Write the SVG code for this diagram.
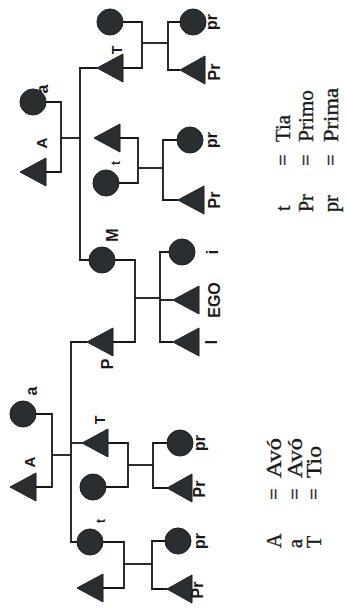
<svg xmlns="http://www.w3.org/2000/svg" width="347" height="608" viewBox="0 0 347 608">
<style>
.c{fill:#2b2e31;stroke:#1e1e1e;stroke-width:1}
.t{fill:#2b2e31;stroke:#1e1e1e;stroke-width:1;stroke-linejoin:round}
.ln{fill:none;stroke:#161616;stroke-width:1.8}
.lb{font-family:"Liberation Sans",Arial,sans-serif;font-weight:bold;fill:#1a1a1a;text-anchor:middle}
.lg{font-family:"Liberation Serif","Times New Roman",serif;font-size:20px;fill:#1a1a1a;stroke:#1a1a1a;stroke-width:0.35}
</style>
<rect width="347" height="608" fill="#ffffff"/>
<g id="connectors" class="ln">
<path d="M46,172 H61 V102 H46"/>
<path d="M61,138 H80"/>
<path d="M97,68 H80 V260 H89"/>
<path d="M123,68 H142 V22 H123"/>
<path d="M142,43 H168"/>
<path d="M180,22 H168 V70 H180"/>
<path d="M120,138 H138 V183 H119"/>
<path d="M138,168 H163"/>
<path d="M177,140 H163 V200 H178"/>
<path d="M115,260 H135 V342 H113"/>
<path d="M135,298 H160"/>
<path d="M169,252 H160 V342 H173"/>
<path d="M160,300 H173"/>
<path d="M87,342 H71 V542 H77"/>
<path d="M36,414 H52 V487 H36"/>
<path d="M52,455 H71"/>
<path d="M71,443 H82"/>
<path d="M108,443 H128 V487 H106"/>
<path d="M128,465 H153"/>
<path d="M167,443 H153 V488 H167"/>
<path d="M103,542 H124 V588 H103"/>
<path d="M124,564 H152"/>
<path d="M165,541 H152 V589 H167"/>
</g>
<g id="mA"><polygon class="t" points="20,172 46,158 46,186"/><text class="lb" font-size="15" transform="translate(47,143) rotate(-90)">A</text></g>
<g id="ma"><circle class="c" cx="33" cy="102" r="13"/><text class="lb" font-size="16" transform="translate(48,89) rotate(-90)">a</text></g>
<g id="mT"><polygon class="t" points="97,68 123,54 123,82"/><text class="lb" font-size="14" transform="translate(122,50) rotate(-90)">T</text></g>
<g id="mTwife"><circle class="c" cx="110" cy="22" r="13"/></g>
<g id="mTpr"><circle class="c" cx="193" cy="22" r="13"/><text class="lb" font-size="16" transform="translate(217,22) rotate(-90)">pr</text></g>
<g id="mTPr"><polygon class="t" points="180,70 205,56 205,84"/><text class="lb" font-size="16" transform="translate(220,72) rotate(-90)">Pr</text></g>
<g id="mt"><circle class="c" cx="106" cy="183" r="13"/><text class="lb" font-size="12" transform="translate(120,163) rotate(-90)">t</text></g>
<g id="mthusband"><polygon class="t" points="94,138 120,124 120,152"/></g>
<g id="mtpr"><circle class="c" cx="190" cy="140" r="13"/><text class="lb" font-size="16" transform="translate(217,140) rotate(-90)">pr</text></g>
<g id="mtPr"><polygon class="t" points="178,200 204,186 204,214"/><text class="lb" font-size="16" transform="translate(220,200) rotate(-90)">Pr</text></g>
<g id="M"><circle class="c" cx="102" cy="260" r="13"/><text class="lb" font-size="16" transform="translate(118,235) rotate(-90)">M</text></g>
<g id="P"><polygon class="t" points="87,342 113,328 113,356"/><text class="lb" font-size="16" transform="translate(113,364) rotate(-90)">P</text></g>
<g id="i"><circle class="c" cx="182" cy="252" r="13"/><text class="lb" font-size="16" transform="translate(218,252) rotate(-90)">i</text></g>
<g id="EGO"><polygon class="t" points="173,300 199,286 199,314"/><text class="lb" font-size="16" transform="translate(220,300) rotate(-90)">EGO</text></g>
<g id="I"><polygon class="t" points="173,342 199,328 199,356"/><text class="lb" font-size="16" transform="translate(217,342) rotate(-90)">I</text></g>
<g id="pa"><circle class="c" cx="23" cy="414" r="13"/><text class="lb" font-size="16" transform="translate(37,391) rotate(-90)">a</text></g>
<g id="pA"><polygon class="t" points="10,487 36,473 36,501"/><text class="lb" font-size="15" transform="translate(35,462) rotate(-90)">A</text></g>
<g id="pT"><polygon class="t" points="82,443 108,429 108,457"/><text class="lb" font-size="14" transform="translate(105,420) rotate(-90)">T</text></g>
<g id="pTwife"><circle class="c" cx="93" cy="487" r="13"/></g>
<g id="pTpr"><circle class="c" cx="180" cy="443" r="13"/><text class="lb" font-size="16" transform="translate(205,443) rotate(-90)">pr</text></g>
<g id="pTPr"><polygon class="t" points="167,488 192,474 192,502"/><text class="lb" font-size="16" transform="translate(205,489) rotate(-90)">Pr</text></g>
<g id="pt"><circle class="c" cx="90" cy="542" r="13"/><text class="lb" font-size="12" transform="translate(105,521) rotate(-90)">t</text></g>
<g id="pthusband"><polygon class="t" points="77,588 103,574 103,602"/></g>
<g id="ptpr"><circle class="c" cx="178" cy="541" r="13"/><text class="lb" font-size="16" transform="translate(205,541) rotate(-90)">pr</text></g>
<g id="ptPr"><polygon class="t" points="167,589 192,575 192,603"/><text class="lb" font-size="16" transform="translate(203,590) rotate(-90)">Pr</text></g>
<g id="legend-top" class="lg">
<text transform="translate(290,211) rotate(-90)">t</text>
<text transform="translate(290,160) rotate(-90)" text-anchor="middle">=</text>
<text transform="translate(290,142) rotate(-90)" textLength="27" lengthAdjust="spacingAndGlyphs">Tia</text>
<text transform="translate(313,212) rotate(-90)">Pr</text>
<text transform="translate(313,160) rotate(-90)" text-anchor="middle">=</text>
<text transform="translate(313,142) rotate(-90)" textLength="52" lengthAdjust="spacingAndGlyphs">Primo</text>
<text transform="translate(338,212) rotate(-90)">pr</text>
<text transform="translate(338,160) rotate(-90)" text-anchor="middle">=</text>
<text transform="translate(338,142) rotate(-90)" textLength="54" lengthAdjust="spacingAndGlyphs">Prima</text>
</g>
<g id="legend-bottom" class="lg">
<text transform="translate(281,548) rotate(-90)">A</text>
<text transform="translate(281,494) rotate(-90)" text-anchor="middle">=</text>
<text transform="translate(281,478) rotate(-90)" textLength="40" lengthAdjust="spacingAndGlyphs">Avó</text>
<text transform="translate(302,548) rotate(-90)">a</text>
<text transform="translate(302,494) rotate(-90)" text-anchor="middle">=</text>
<text transform="translate(302,478) rotate(-90)" textLength="40" lengthAdjust="spacingAndGlyphs">Avó</text>
<text transform="translate(321,548) rotate(-90)">T</text>
<text transform="translate(321,494) rotate(-90)" text-anchor="middle">=</text>
<text transform="translate(321,478) rotate(-90)" textLength="32" lengthAdjust="spacingAndGlyphs">Tio</text>
</g>
</svg>
